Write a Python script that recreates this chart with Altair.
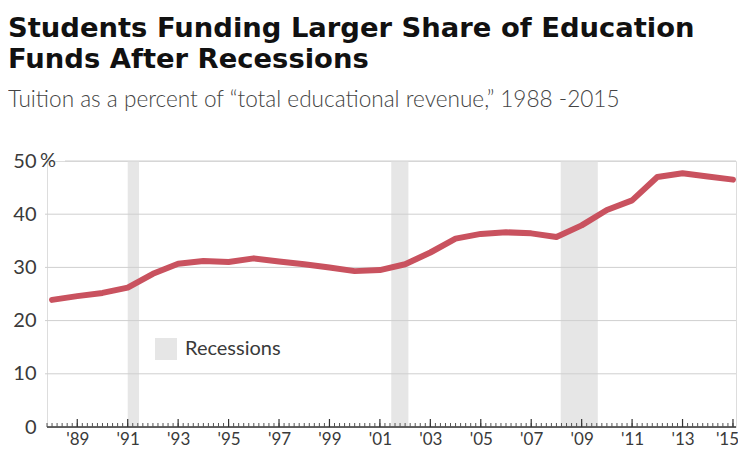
import altair as alt
import pandas as pd

# ---- data ----
years = list(range(1988, 2016))
tuition_share = [23.9, 24.6, 25.2, 26.2, 28.8, 30.7, 31.2, 31.0, 31.7, 31.1,
                 30.6, 30.0, 29.3, 29.5, 30.6, 32.8, 35.4, 36.3, 36.6, 36.4,
                 35.7, 37.9, 40.8, 42.6, 47.0, 47.7, 47.1, 46.5]
recession_start = [1991.0, 2001.45, 2008.17]
recession_end = [1991.45, 2002.13, 2009.64]
y_ticks = [0, 10, 20, 30, 40, 50]
x_label_years = list(range(1989, 2016, 2))
minor_ticks = [round(1987.8 + 0.2 * i, 2) for i in range(137)]

W, H = 689, 266
FONT = "Lato"
TXT = "#3a3a3a"

line_df = pd.DataFrame({"year": years, "share": tuition_share})
rec_df = pd.DataFrame({"start": recession_start, "end": recession_end})
y_df = pd.DataFrame({"v": y_ticks})
major_df = pd.DataFrame({"yr": x_label_years})
minor_df = pd.DataFrame({"yr": minor_ticks})

x_scale = alt.Scale(domain=[1987.8, 2015.12], nice=False, zero=False)
y_scale = alt.Scale(domain=[0, 50], nice=False)

x_axis = alt.Axis(
    values=x_label_years, grid=False, domain=False, ticks=False,
    labelExpr="\"'\" + substring(toString(datum.value), 2)",
    labelFontSize=17, labelFont=FONT, labelColor=TXT, labelPadding=4,
    labelOffset={"condition": {"test": "datum.value == 2015", "value": -6}, "value": 0},
    labelFlush=False, labelOverlap=False, title=None)
y_axis = alt.Axis(
    values=y_ticks, grid=False, domain=False, ticks=False,
    labelFontSize=20, labelFont=FONT, labelColor=TXT, labelPadding=11,
    title=None)

bands = alt.Chart(rec_df).transform_calculate(label="'Recessions'").mark_rect().encode(
    x=alt.X("start:Q", scale=x_scale, axis=x_axis),
    x2="end:Q",
    y=alt.value(0),
    y2=alt.value(H),
    color=alt.Color(
        "label:N",
        scale=alt.Scale(domain=["Recessions"], range=["#e6e6e6"]),
        legend=alt.Legend(
            title=None, orient="none", legendX=108, legendY=177,
            symbolType="square", symbolSize=484, symbolStrokeWidth=0,
            symbolOpacity=1,
            labelFontSize=20, labelFont=FONT, labelColor=TXT, labelOffset=8,
            padding=0,
        ),
    ),
)

grid = alt.Chart(y_df).transform_filter("datum.v > 0 && datum.v < 50").mark_rule(
    color="#cfcfcf", strokeWidth=1
).encode(
    y=alt.Y("v:Q", scale=y_scale, axis=y_axis),
    x=alt.value(-2),
    x2=alt.value(W),
)

grid_top = alt.Chart(y_df).transform_filter("datum.v == 50").mark_rule(
    color="#cfcfcf", strokeWidth=1
).encode(
    y=alt.Y("v:Q", scale=y_scale, axis=y_axis),
    x=alt.value(18),
    x2=alt.value(W),
)

pct = alt.Chart(y_df).transform_filter("datum.v == 50").mark_text(
    align="left", baseline="middle", fontSize=20, font=FONT, color=TXT
).encode(
    y=alt.Y("v:Q", scale=y_scale, axis=y_axis),
    x=alt.value(-7),
    text=alt.value("%"),
)

baseline = alt.Chart(y_df).transform_filter("datum.v == 0").mark_rule(
    color="#333333", strokeWidth=1.5
).encode(
    y=alt.Y("v:Q", scale=y_scale, axis=y_axis),
    x=alt.value(0),
    x2=alt.value(W),
)

major = alt.Chart(major_df).mark_rule(color="#333333", strokeWidth=1.2).encode(
    x=alt.X("yr:Q", scale=x_scale, axis=x_axis),
    y=alt.value(H),
    y2=alt.value(H - 8),
)

minor = alt.Chart(minor_df).mark_rule(color="#555555", strokeWidth=1).encode(
    x=alt.X("yr:Q", scale=x_scale, axis=x_axis),
    y=alt.value(H),
    y2=alt.value(H - 4),
)

line = alt.Chart(line_df).mark_line(
    color="#c9525f", strokeWidth=6, strokeCap="round", strokeJoin="round"
).encode(
    x=alt.X("year:Q", scale=x_scale, axis=x_axis),
    y=alt.Y("share:Q", scale=y_scale, axis=y_axis),
)

chart = alt.layer(bands, grid, grid_top, baseline, minor, major, pct, line).properties(
    width=W,
    height=H,
    autosize=alt.AutoSizeParams(type="none"),
    padding={"left": 39, "top": 153, "right": 2, "bottom": 22},
    title=alt.TitleParams(
        text=["Students Funding Larger Share of Education", "Funds After Recessions"],
        subtitle="Tuition as a percent of \u201ctotal educational revenue,\u201d 1988 -2015",
        anchor="start", frame="group", dx=-39, offset=39,
        font="DejaVu Sans", fontSize=27.4, fontWeight="bold", color="#111111", lineHeight=31,
        subtitleFont=FONT, subtitleFontSize=22.6, subtitleFontWeight=300,
        subtitleColor="#444444", subtitlePadding=16,
    ),
).configure_view(stroke=None).configure(background="white")

chart.save("out.html", embed_options={"renderer": "svg", "actions": False})
